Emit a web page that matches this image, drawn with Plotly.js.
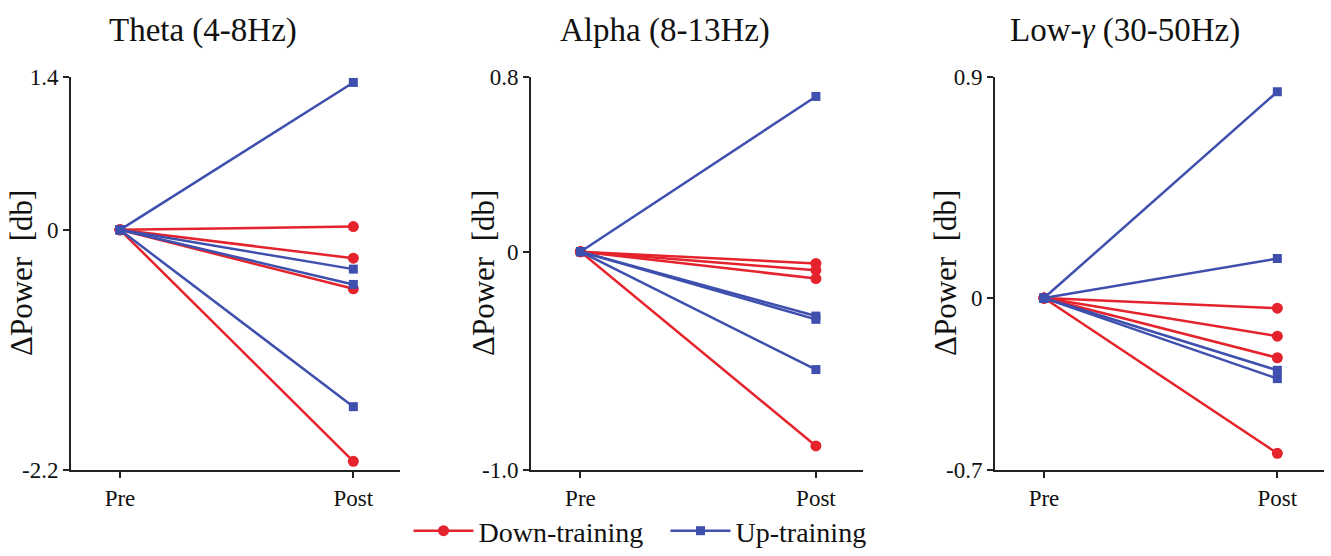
<!DOCTYPE html>
<html>
<head>
<meta charset="utf-8">
<script src="https://cdn.plot.ly/plotly-3.0.1.min.js"></script>
<style>html,body{margin:0;padding:0;background:#fff;}#chart{width:1331px;height:556px;}</style>
</head>
<body>
<div id="chart"></div>
<script>
// ---- data ----
const phases = ['Pre', 'Post'];
const bands = ['Theta (4-8Hz)', 'Alpha (8-13Hz)', 'Low-<i>\u03b3</i> (30-50Hz)'];
const groups = ['Down-training', 'Up-training'];
const preValue = 0;
const downTheta = [0.03, -0.26, -0.54, -2.12];
const upTheta   = [1.35, -0.36, -0.50, -1.62];
const downAlpha = [-0.054, -0.085, -0.123, -0.89];
const upAlpha   = [0.711, -0.295, -0.31, -0.54];
const downGamma = [-0.041, -0.155, -0.243, -0.632];
const upGamma   = [0.84, 0.161, -0.294, -0.328];
const thetaTicks = [-2.2, 0, 1.4];
const alphaTicks = [-1.0, 0, 0.8];
const gammaTicks = [-0.7, 0, 0.9];
const thetaTickText = ['-2.2', '0', '1.4'];
const alphaTickText = ['-1.0', '0', '0.8'];
const gammaTickText = ['-0.7', '0', '0.9'];
const yLabel = '\u0394Power  [db]';

// ---- style ----
const RED = '#e5232c';
const BLUE = '#3f4fae';
const FONT = "'Liberation Serif', 'Times New Roman', serif";
const W = 1331, H = 556;
const xDomains = [[71 / W, 400 / W], [531 / W, 863 / W], [995 / W, 1324 / W]];
const yDomain = [(H - 470) / H, (H - 77) / H];
const titleX = [203 / W, 665 / W, 1125 / W];
const ylabX = [22 / W, 484 / W, 946 / W];

const panels = [
  {down: downTheta, up: upTheta, ticks: thetaTicks, text: thetaTickText},
  {down: downAlpha, up: upAlpha, ticks: alphaTicks, text: alphaTickText},
  {down: downGamma, up: upGamma, ticks: gammaTicks, text: gammaTickText}
];

const traces = [];
const shown = {down: false, up: false};
panels.forEach((p, i) => {
  const xa = i === 0 ? 'x' : 'x' + (i + 1);
  const ya = i === 0 ? 'y' : 'y' + (i + 1);
  p.down.forEach(v => {
    traces.push({
      type: 'scatter', mode: 'lines+markers', x: [0, 1], y: [preValue, v],
      xaxis: xa, yaxis: ya, name: groups[0], legendgroup: 'down',
      showlegend: !shown.down,
      line: {color: RED, width: 2.5},
      marker: {color: RED, size: 11, symbol: 'circle'},
      hoverinfo: 'skip'
    });
    shown.down = true;
  });
});
panels.forEach((p, i) => {
  const xa = i === 0 ? 'x' : 'x' + (i + 1);
  const ya = i === 0 ? 'y' : 'y' + (i + 1);
  p.up.forEach(v => {
    traces.push({
      type: 'scatter', mode: 'lines+markers', x: [0, 1], y: [preValue, v],
      xaxis: xa, yaxis: ya, name: groups[1], legendgroup: 'up',
      showlegend: !shown.up,
      line: {color: BLUE, width: 2.5},
      marker: {color: BLUE, size: 9, symbol: 'square'},
      hoverinfo: 'skip'
    });
    shown.up = true;
  });
});

const layout = {
  width: W, height: H,
  margin: {l: 0, r: 0, t: 0, b: 0, autoexpand: false},
  paper_bgcolor: '#fff', plot_bgcolor: '#fff',
  font: {family: FONT, color: '#111', size: 23},
  showlegend: true,
  legend: {orientation: 'h', x: 0.5, xanchor: 'center', y: 0.0, yanchor: 'bottom',
           font: {family: FONT, size: 28, color: '#111'}, itemwidth: 60,
           entrywidth: 182, entrywidthmode: 'pixels', traceorder: 'normal',
           bgcolor: 'rgba(0,0,0,0)'},
  annotations: []
};

panels.forEach((p, i) => {
  const sx = i === 0 ? '' : String(i + 1);
  layout['xaxis' + sx] = {
    domain: xDomains[i], range: [-0.21, 1.2], anchor: 'y' + sx,
    tickmode: 'array', tickvals: [0, 1], ticktext: phases,
    ticks: 'outside', ticklen: 6, tickwidth: 2, tickcolor: '#222',
    showline: true, linecolor: '#222', linewidth: 2,
    showgrid: false, zeroline: false, fixedrange: true,
    tickfont: {family: FONT, size: 23, color: '#111'}
  };
  layout['yaxis' + sx] = {
    domain: yDomain, range: [p.ticks[0], p.ticks[2]], anchor: 'x' + sx,
    tickmode: 'array', tickvals: p.ticks, ticktext: p.text,
    ticks: 'outside', ticklen: 6, tickwidth: 2, tickcolor: '#222',
    showline: true, linecolor: '#222', linewidth: 2,
    showgrid: false, zeroline: false, fixedrange: true,
    tickfont: {family: FONT, size: 23, color: '#111'}
  };
  layout.annotations.push({
    text: bands[i], xref: 'paper', yref: 'paper', x: titleX[i], y: (H - 31) / H,
    xanchor: 'center', yanchor: 'middle', showarrow: false,
    font: {family: FONT, size: 33, color: '#111'}
  });
  layout.annotations.push({
    text: yLabel, xref: 'paper', yref: 'paper', x: ylabX[i], y: (H - 273) / H,
    xanchor: 'center', yanchor: 'middle', showarrow: false, textangle: -90,
    font: {family: FONT, size: 31, color: '#111'}
  });
});

Plotly.newPlot('chart', traces, layout, {staticPlot: true, displayModeBar: false});
</script>
</body>
</html>
